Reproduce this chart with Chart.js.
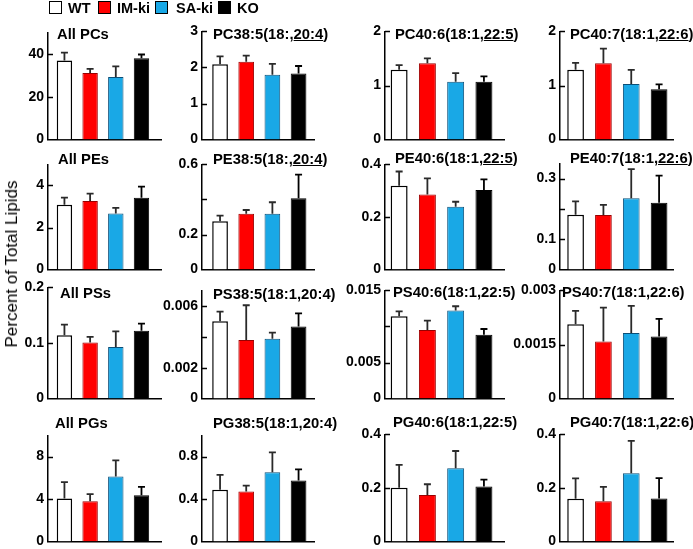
<!DOCTYPE html>
<html>
<head>
<meta charset="utf-8">
<script src="https://cdn.jsdelivr.net/npm/chart.js@4.4.1/dist/chart.umd.min.js"></script>
<style>
body{margin:0;background:#fff;font-family:"Liberation Sans",Arial,sans-serif;}
#wrap{position:relative;width:693px;height:549px;overflow:hidden;background:#fff;}
#wrap canvas{position:absolute;}
.ttl{position:absolute;font-weight:bold;font-size:14.8px;line-height:16px;white-space:nowrap;color:#000;transform:translateY(-50%);}
.lgt{position:absolute;font-weight:bold;font-size:14.5px;line-height:16px;top:0px;color:#000;}
.box{position:absolute;top:1px;width:11px;height:11px;border:1.5px solid #000;}
#ylab{position:absolute;left:12px;top:264px;transform:translate(-50%,-50%) rotate(-90deg);font-size:17px;white-space:nowrap;color:#000;}
</style>
</head>
<body>
<div id="wrap"></div>
<script>
// groups / colours
const groups = ['WT', 'IM-ki', 'SA-ki', 'KO'];
const groupColors = ['#ffffff', '#ff0000', '#19a8e6', '#000000'];
const groupBorders = ['#000000', '#9a0000', '#0b4f78', '#000000'];

// panel titles, row by row (underlined part marked separately)
const titles = [
  'All PCs', 'PC38:5(18:,20:4)', 'PC40:6(18:1,22:5)', 'PC40:7(18:1,22:6)',
  'All PEs', 'PE38:5(18:,20:4)', 'PE40:6(18:1,22:5)', 'PE40:7(18:1,22:6)',
  'All PSs', 'PS38:5(18:1,20:4)', 'PS40:6(18:1,22:5)', 'PS40:7(18:1,22:6)',
  'All PGs', 'PG38:5(18:1,20:4)', 'PG40:6(18:1,22:5)', 'PG40:7(18:1,22:6)'
];
const underlined = ['', '20:4', '22:5', '22:6', '', '20:4', '22:5', '22:6', '', '', '', '', '', '', '', ''];

// y axes
const yMax = [50, 3, 2, 2, 5, 0.6, 0.4, 0.35, 0.2, 0.007, 0.015, 0.003, 10, 1.0, 0.4, 0.4];
const tickVals = [
  [0, 20, 40], [0, 1, 2, 3], [0, 1, 2], [0, 1, 2],
  [0, 2, 4], [0, 0.2, 0.4, 0.6], [0, 0.2, 0.4], [0, 0.1, 0.2, 0.3],
  [0, 0.1, 0.2], [0, 0.002, 0.004, 0.006], [0, 0.005, 0.01, 0.015], [0, 0.0015, 0.003],
  [0, 4, 8], [0, 0.4, 0.8], [0, 0.2, 0.4], [0, 0.2, 0.4]
];
const tickLabels = [
  ['0', '20', '40'], ['0', '1', '2', '3'], ['0', '1', '2'], ['0', '1', '2'],
  ['0', '2', '4'], ['0', '0.2', '', '0.6'], ['0', '0.2', '0.4'], ['0', '0.1', '', '0.3'],
  ['0', '0.1', '0.2'], ['0', '0.002', '', '0.006'], ['0', '0.005', '', '0.015'], ['0', '0.0015', '0.003'],
  ['0', '4', '8'], ['0', '0.4', '0.8'], ['0', '0.2', '0.4'], ['0', '0.2', '0.4']
];

// means and upper error (WT, IM-ki, SA-ki, KO) per panel
const pcMeans = [[36.9, 31.1, 29.2, 37.9], [2.09, 2.16, 1.80, 1.83], [1.29, 1.41, 1.07, 1.07], [1.29, 1.41, 1.03, 0.93]];
const pcErrs  = [[3.7, 1.9, 5.0, 1.8], [0.22, 0.17, 0.30, 0.21], [0.085, 0.09, 0.16, 0.10], [0.13, 0.27, 0.26, 0.09]];
const peMeans = [[3.08, 3.26, 2.67, 3.41], [0.276, 0.319, 0.319, 0.407], [0.319, 0.286, 0.239, 0.303], [0.181, 0.180, 0.235, 0.22]];
const peErrs  = [[0.34, 0.35, 0.26, 0.53], [0.032, 0.021, 0.065, 0.135], [0.054, 0.061, 0.019, 0.04], [0.044, 0.033, 0.096, 0.09]];
const psMeans = [[0.114, 0.101, 0.093, 0.122], [0.0050, 0.00379, 0.00388, 0.00467], [0.0114, 0.0095, 0.0122, 0.00885], [0.00206, 0.00158, 0.00182, 0.00172]];
const psErrs  = [[0.019, 0.010, 0.028, 0.013], [0.00063, 0.00225, 0.00039, 0.00085], [0.0007, 0.0013, 0.0006, 0.0008], [0.00037, 0.00094, 0.00075, 0.00049]];
const pgMeans = [[4.06, 3.79, 6.13, 4.36], [0.489, 0.471, 0.652, 0.575], [0.201, 0.174, 0.274, 0.206], [0.16, 0.151, 0.255, 0.161]];
const pgErrs  = [[1.54, 0.68, 1.51, 0.80], [0.139, 0.056, 0.189, 0.105], [0.085, 0.04, 0.064, 0.025], [0.076, 0.053, 0.121, 0.076]];

const allMeans = [pcMeans, peMeans, psMeans, pgMeans];
const allErrs = [pcErrs, peErrs, psErrs, pgErrs];

// layout (pixels)
const colAxisX = [48, 202, 385, 560];
const colRightX = [161, 314, 504, 673];
const colXMin = [-0.64, -0.69, -0.5, -0.56];
const colXMax = [3.76, 3.59, 3.71, 3.5];
const rowZeroY = [142, 272, 401, 544];
const panelTopY = [30, 29, 29, 29, 162, 162, 162, 161, 285, 288, 288, 288, 433, 433, 432, 432];
const titleX = [57, 213, 395, 570, 58, 213, 395, 570, 60, 213, 393, 562, 55, 213, 393, 570];
const titleY = [34, 34, 34, 34, 159, 159, 158, 158, 293, 294, 292, 292, 423, 423, 422, 422];
const YW = 52, PAD = 10;

const FONT = '"Liberation Sans", Arial, sans-serif';
const wrap = document.getElementById('wrap');

// ticks pointing inward + upward error whiskers
const extras = {
  id: 'extras',
  afterDatasetsDraw(chart, args, opts) {
    const {ctx, chartArea, scales: {y}} = chart;
    ctx.save();
    ctx.strokeStyle = '#000';
    ctx.lineWidth = 1.5;
    y.ticks.forEach(t => {
      if (t.value === 0) return;
      const py = Math.round(y.getPixelForValue(t.value)) + 0.5;
      ctx.beginPath();
      ctx.moveTo(chartArea.left, py);
      ctx.lineTo(chartArea.left + 5, py);
      ctx.stroke();
    });
    const ds = chart.data.datasets[0];
    chart.getDatasetMeta(0).data.forEach((bar, i) => {
      const top = y.getPixelForValue(ds.data[i].y + opts.errs[i]);
      ctx.strokeStyle = i === 3 ? '#000' : '#2a2a2a';
      ctx.lineWidth = 1.8;
      ctx.beginPath();
      ctx.moveTo(bar.x, bar.y);
      ctx.lineTo(bar.x, top);
      ctx.moveTo(bar.x - 3.5, top);
      ctx.lineTo(bar.x + 3.5, top);
      ctx.stroke();
    });
    ctx.restore();
  }
};

function makePanel(r, c) {
  const k = r * 4 + c;
  const cv = document.createElement('canvas');
  const left = colAxisX[c] - YW;
  const top = panelTopY[k] - PAD;
  cv.width = colRightX[c] - left + 3;
  cv.height = rowZeroY[r] - panelTopY[k] + 2 * PAD;
  cv.style.left = left + 'px';
  cv.style.top = top + 'px';
  wrap.appendChild(cv);

  const vals = tickVals[k], labs = tickLabels[k];
  new Chart(cv, {
    type: 'bar',
    data: {
      datasets: [{
        data: allMeans[r][c].map((v, i) => ({x: i, y: v})),
        backgroundColor: groupColors,
        borderColor: groupBorders,
        borderWidth: [1.5, 1, 1, 1],
        borderSkipped: 'start',
        categoryPercentage: 1,
        barPercentage: 0.6
      }]
    },
    options: {
      responsive: false,
      devicePixelRatio: 1,
      animation: false,
      layout: {padding: {top: PAD, bottom: PAD, left: 0, right: 3}},
      scales: {
        x: {
          type: 'linear',
          offset: false,
          bounds: 'data',
          min: colXMin[c],
          max: colXMax[c],
          afterBuildTicks: s => { s.ticks = groups.map((g, i) => ({value: i})); },
          ticks: {display: false},
          grid: {display: false, drawTicks: false, offset: false},
          border: {color: '#000', width: 1.5},
          afterFit: s => { s.height = 0; }
        },
        y: {
          min: 0,
          max: yMax[k],
          afterBuildTicks: s => { s.ticks = vals.map(v => ({value: v})); },
          ticks: {
            color: '#000',
            padding: 4,
            font: {family: FONT, size: 14, weight: 'bold'},
            callback: (v, i) => labs[i]
          },
          grid: {display: false, drawTicks: false},
          border: {color: '#000', width: 1.5},
          afterFit: s => { s.width = YW; }
        }
      },
      plugins: {
        legend: {display: false},
        tooltip: {enabled: false},
        extras: {errs: allErrs[r][c]}
      }
    },
    plugins: [extras]
  });

  const t = document.createElement('div');
  t.className = 'ttl';
  t.style.left = titleX[k] + 'px';
  t.style.top = titleY[k] + 'px';
  const u = underlined[k];
  if (u) {
    const p = titles[k].lastIndexOf(u);
    t.innerHTML = titles[k].slice(0, p) + '<u>' + u + '</u>' + titles[k].slice(p + u.length);
  } else {
    t.textContent = titles[k];
  }
  wrap.appendChild(t);
}

for (let r = 0; r < 4; r++) for (let c = 0; c < 4; c++) makePanel(r, c);

// legend
const legendBoxX = [49, 98, 155, 218];
const legendTextX = [68, 117, 176, 237];
groups.forEach((g, i) => {
  const b = document.createElement('div');
  b.className = 'box';
  b.style.left = legendBoxX[i] + 'px';
  b.style.background = groupColors[i];
  wrap.appendChild(b);
  const t = document.createElement('div');
  t.className = 'lgt';
  t.style.left = legendTextX[i] + 'px';
  t.textContent = g;
  wrap.appendChild(t);
});

const yl = document.createElement('div');
yl.id = 'ylab';
yl.textContent = 'Percent of Total Lipids';
wrap.appendChild(yl);
</script>
</body>
</html>
